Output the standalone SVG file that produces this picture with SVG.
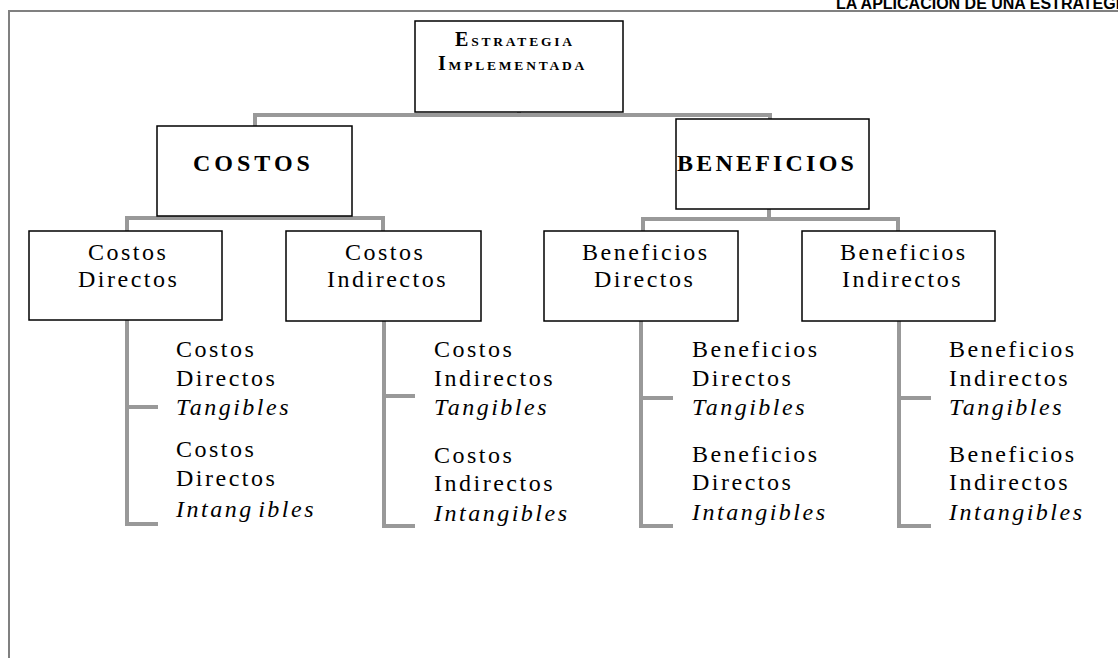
<svg xmlns="http://www.w3.org/2000/svg" width="1118" height="658" viewBox="0 0 1118 658">
<style>
.box{fill:#fff;stroke:#000;stroke-width:1.5}
.con{fill:none;stroke:#999;stroke-width:4}
.t{font-family:"Liberation Serif","Times New Roman",serif;font-size:24px;letter-spacing:2.5px;fill:#000}
.i{font-style:italic}
.b{font-weight:bold}
.frame{fill:none;stroke:#808080;stroke-width:2}
</style>
<rect width="1118" height="658" fill="#fff"/>
<text x="836" y="9" font-family="'Liberation Sans',Arial,sans-serif" font-size="16" font-weight="bold" fill="#000">LA APLICACIÓN DE UNA ESTRATEGIA</text>
<path class="frame" d="M1118,11 H9 V658"/>

<g id="connectors">
<path class="con" d="M519,91 V115 M255,136 V115 H770 V136"/>
<path class="con" d="M255,196 V218 M127,240 V218 H383 V240"/>
<path class="con" d="M769,196 V219 M643,240 V219 H898 V240"/>
<path class="con" d="M127,301 V524 H158 M127,407 H158"/>
<path class="con" d="M384,301 V526 H415 M384,396 H415"/>
<path class="con" d="M641,301 V526 H673 M641,398 H673"/>
<path class="con" d="M899,301 V526 H931 M899,398 H931"/>
</g>

<g id="estrategia">
<rect class="box" x="415" y="21" width="208" height="91"/>
<text class="t b" x="455" y="46" style="letter-spacing:2.8px"><tspan font-size="20">E</tspan><tspan font-size="13.5">STRATEGIA</tspan></text>
<text class="t b" x="438" y="70" style="letter-spacing:2.8px"><tspan font-size="20">I</tspan><tspan font-size="13.5">MPLEMENTADA</tspan></text>
</g>

<g id="costos">
<rect class="box" x="157" y="126" width="195" height="90"/>
<text class="t b" x="193" y="171" style="letter-spacing:4px">COSTOS</text>
</g>
<g id="beneficios">
<rect class="box" x="676" y="119" width="193" height="90"/>
<text class="t b" x="677" y="171" style="letter-spacing:3.2px">BENEFICIOS</text>
</g>

<g id="costos-directos">
<rect class="box" x="29" y="231" width="193" height="89"/>
<text class="t" x="88" y="260">Costos</text>
<text class="t" x="78" y="287">Directos</text>
</g>
<g id="costos-indirectos">
<rect class="box" x="286" y="231" width="195" height="90"/>
<text class="t" x="345" y="260">Costos</text>
<text class="t" x="327" y="287">Indirectos</text>
</g>
<g id="beneficios-directos">
<rect class="box" x="544" y="231" width="194" height="90"/>
<text class="t" x="582" y="260">Beneficios</text>
<text class="t" x="594" y="287">Directos</text>
</g>
<g id="beneficios-indirectos">
<rect class="box" x="802" y="231" width="193" height="90"/>
<text class="t" x="840" y="260">Beneficios</text>
<text class="t" x="842" y="287">Indirectos</text>
</g>

<g id="cd-tangibles">
<text class="t" x="176" y="357">Costos</text>
<text class="t" x="176" y="386">Directos</text>
<text class="t i" x="176" y="415">Tangibles</text>
</g>
<g id="cd-intangibles">
<text class="t" x="176" y="457">Costos</text>
<text class="t" x="176" y="486">Directos</text>
<text class="t i" x="176" y="517" word-spacing="-4">Intang ibles</text>
</g>
<g id="ci-tangibles">
<text class="t" x="434" y="357">Costos</text>
<text class="t" x="434" y="386">Indirectos</text>
<text class="t i" x="434" y="415">Tangibles</text>
</g>
<g id="ci-intangibles">
<text class="t" x="434" y="463">Costos</text>
<text class="t" x="434" y="491">Indirectos</text>
<text class="t i" x="434" y="521">Intangibles</text>
</g>
<g id="bd-tangibles">
<text class="t" x="692" y="357">Beneficios</text>
<text class="t" x="692" y="386">Directos</text>
<text class="t i" x="692" y="415">Tangibles</text>
</g>
<g id="bd-intangibles">
<text class="t" x="692" y="462">Beneficios</text>
<text class="t" x="692" y="490">Directos</text>
<text class="t i" x="692" y="520">Intangibles</text>
</g>
<g id="bi-tangibles">
<text class="t" x="949" y="357">Beneficios</text>
<text class="t" x="949" y="386">Indirectos</text>
<text class="t i" x="949" y="415">Tangibles</text>
</g>
<g id="bi-intangibles">
<text class="t" x="949" y="462">Beneficios</text>
<text class="t" x="949" y="490">Indirectos</text>
<text class="t i" x="949" y="520">Intangibles</text>
</g>
</svg>
